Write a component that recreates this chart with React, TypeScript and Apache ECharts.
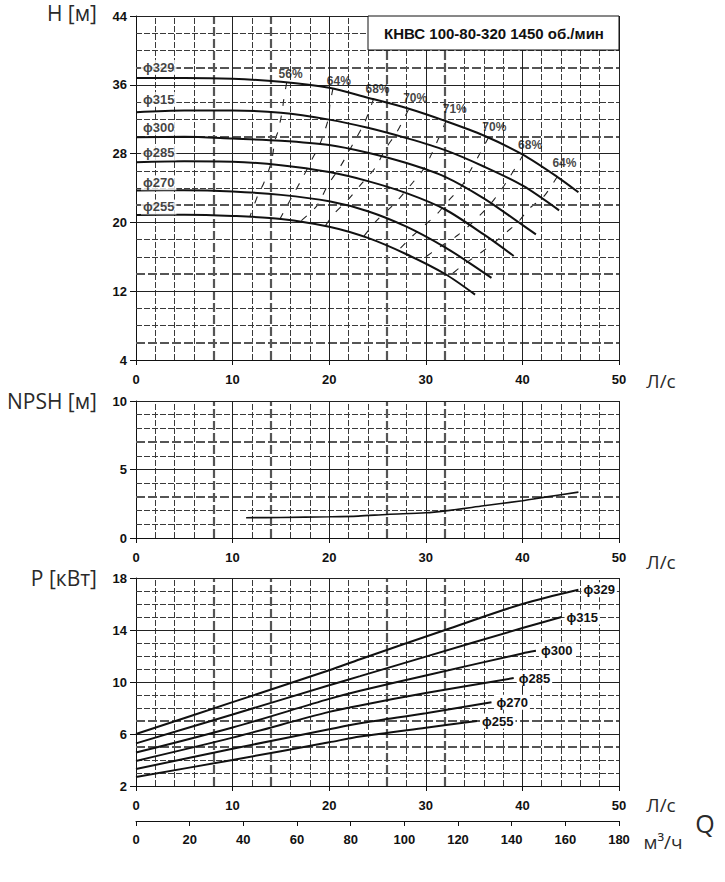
import React, { useEffect, useRef } from "react";
import * as echarts from "echarts";

// ---------- data ----------
const DIAMETERS = ["ϕ329", "ϕ315", "ϕ300", "ϕ285", "ϕ270", "ϕ255"];
const TITLE = "КНВС 100-80-320 1450 об./мин";

// Head curves H(Q), Q in l/s, H in m
const H_329 = [[0, 36.8], [5, 36.8], [10, 36.7], [15, 36.35], [20, 35.65], [24, 34.5], [28, 33.3], [32, 31.8], [36, 30.1], [40, 27.9], [43.6, 25.3], [45.8, 23.5]];
const H_315 = [[0, 32.8], [5, 33.0], [10, 33.0], [15, 32.75], [20, 31.95], [24, 31.0], [28, 29.8], [32, 28.4], [36, 26.5], [40, 24.3], [43.8, 21.4]];
const H_300 = [[0, 29.9], [5, 29.95], [10, 29.75], [15, 29.5], [20, 29.0], [24, 28.1], [28, 26.9], [32, 25.3], [36, 22.8], [39.5, 20.1], [41.4, 18.6]];
const H_285 = [[0, 27.0], [5, 27.1], [10, 27.05], [15, 26.65], [20, 25.85], [24, 24.8], [28, 23.4], [32, 21.5], [36, 18.6], [39.1, 16.1]];
const H_270 = [[0, 23.7], [5, 23.75], [10, 23.6], [15, 23.2], [20, 22.45], [24, 21.3], [28, 19.5], [32, 17.1], [34.5, 15.3], [36.8, 13.55]];
const H_255 = [[0, 20.85], [5, 20.9], [10, 20.75], [15, 20.4], [20, 19.5], [24, 18.2], [28, 16.3], [32, 14.0], [35.1, 11.6]];
const H_CURVES = [H_329, H_315, H_300, H_285, H_270, H_255];

// diameter label anchors on the head chart
const H_LABEL_Q = 2.35;
const H_LABEL_H = [38.0, 34.3, 31.0, 28.1, 24.6, 21.8];

// iso-efficiency lines
const EFF_56 = [[15.6, 36.3], [15.3, 34.3], [15.1, 32.7], [14.7, 30.6], [14.4, 29.6], [14.0, 27.0], [13.2, 24.5], [12.7, 23.4], [11.8, 20.7]];
const EFF_64A = [[20.4, 35.6], [20.1, 33.9], [19.9, 32.0], [19.0, 29.0], [18.2, 27.3], [17.3, 25.3], [16.3, 23.3], [14.9, 20.4]];
const EFF_68A = [[24.6, 34.4], [23.7, 31.7], [22.4, 29.0], [21.1, 26.4], [19.9, 24.4], [18.7, 21.9], [17.0, 20.1]];
const EFF_70A = [[28.2, 33.1], [27.0, 30.5], [25.8, 28.5], [24.8, 26.4], [23.2, 24.3], [22.0, 22.7], [20.5, 21.0], [19.6, 19.6]];
const EFF_71 = [[32.1, 31.8], [31.1, 29.2], [30.4, 27.5], [29.7, 26.1], [28.7, 24.7], [27.8, 23.5], [26.7, 22.1], [24.9, 20.2], [23.6, 18.4]];
const EFF_70B = [[36.5, 29.9], [35.6, 28.0], [34.6, 26.0], [33.7, 24.2], [32.4, 22.6], [31.1, 20.9], [29.8, 19.6], [28.6, 18.4], [27.2, 16.8]];
const EFF_68B = [[40.1, 27.9], [38.7, 25.3], [37.1, 22.7], [35.4, 20.6], [33.3, 18.5], [31.4, 17.1], [29.5, 15.6]];
const EFF_64B = [[43.6, 25.3], [42.2, 23.0], [40.7, 21.6], [39.6, 20.1], [38.4, 18.9], [37.2, 17.75], [35.6, 16.4], [33.8, 15.0], [32.4, 13.7]];
const EFF_LINES = [EFF_56, EFF_64A, EFF_68A, EFF_70A, EFF_71, EFF_70B, EFF_68B, EFF_64B];

const EFF_LABELS = ["56%", "64%", "68%", "70%", "71%", "70%", "68%", "64%"];
const EFF_LABEL_Q = [16.0, 21.0, 25.0, 28.9, 33.0, 37.1, 40.8, 44.35];
const EFF_LABEL_H = [37.2, 36.5, 35.5, 34.5, 33.2, 31.15, 29.0, 26.9];

// NPSH curve
const NPSH = [[11.4, 1.48], [15, 1.5], [20, 1.55], [23, 1.6], [26, 1.72], [30, 1.84], [32, 1.98], [36, 2.35], [40, 2.72], [42, 2.95], [45.8, 3.35]];

// Power curves P(Q), kW
const P_329 = [[0, 6.0], [10, 8.45], [20, 10.9], [23.2, 11.75], [32, 14.0], [40, 16.0], [45.8, 17.1]];
const P_315 = [[0, 5.28], [10, 7.5], [20, 9.75], [23.2, 10.45], [30, 11.95], [40, 14.15], [44.05, 15.0]];
const P_300 = [[0, 4.57], [10, 6.5], [20, 8.7], [23.2, 9.33], [30, 10.5], [40, 12.2], [41.4, 12.4]];
const P_285 = [[0, 3.93], [10, 5.72], [20, 7.7], [23.2, 8.2], [30, 9.15], [39.1, 10.3]];
const P_270 = [[0, 3.3], [10, 4.87], [20, 6.36], [23.2, 6.82], [30, 7.6], [36.8, 8.44]];
const P_255 = [[0, 2.7], [10, 4.0], [20, 5.36], [23.2, 5.8], [30, 6.48], [35.3, 7.0]];
const P_CURVES = [P_329, P_315, P_300, P_285, P_270, P_255];

// axes
const Q_MAX = 50;
const QM3_MAX = 180;
const H_TICKS = [4, 12, 20, 28, 36, 44];
const NPSH_TICKS = [0, 5, 10];
const P_TICKS = [2, 6, 10, 14, 18];

// grid lines
const X_SOLID = [10, 20, 30, 40, 50];
const X_THICK = [8, 14, 26, 32];
const X_THIN = [2, 4, 6, 12, 16, 18, 22, 24, 28, 34, 36, 38, 42, 44, 46, 48];
const H_SOLID = [12, 20, 28, 36, 44];
const H_THICK = [6, 14, 22, 30, 38];
const H_THIN = [8, 10, 16, 18, 24, 26, 32, 34, 40, 42];
const NPSH_SOLID = [5, 10];
const NPSH_THICK = [3, 7];
const NPSH_THIN = [1, 2, 4, 6, 8, 9];
const P_SOLID = [6, 10, 14, 18];
const P_THICK = [5, 7];
const P_THIN = [3, 4, 8, 9, 11, 12, 13, 15, 16, 17];

// ---------- styles ----------
const FONT_NUM = "'Liberation Sans', Arial, sans-serif";
const FONT_TXT = "'Open Sans', 'Noto Sans', sans-serif";
const INK = "#111";

const thinStyle = { color: "#3a3a3a", width: 1, type: [6, 2] };
const thickStyle = { color: "#555", width: 2.2, type: [9, 3] };
const solidStyle = { color: "#222", width: 1, type: "solid" };

function gridLineData(xThin: number[], xThick: number[], xSolid: number[], yThin: number[], yThick: number[], ySolid: number[]) {
  return [
    ...xThin.map((v) => ({ xAxis: v, lineStyle: thinStyle })),
    ...yThin.map((v) => ({ yAxis: v, lineStyle: thinStyle })),
    ...xThick.map((v) => ({ xAxis: v, lineStyle: thickStyle })),
    ...yThick.map((v) => ({ yAxis: v, lineStyle: thickStyle })),
    ...xSolid.map((v) => ({ xAxis: v, lineStyle: solidStyle })),
    ...ySolid.map((v) => ({ yAxis: v, lineStyle: solidStyle })),
  ];
}

function gridSeries(idx: number, data: any[]) {
  return {
    type: "line",
    xAxisIndex: idx,
    yAxisIndex: idx,
    data: [],
    z: 1,
    silent: true,
    markLine: {
      silent: true,
      symbol: ["none", "none"],
      label: { show: false },
      emphasis: { disabled: true },
      animation: false,
      data,
    },
  };
}

const labelText = { color: INK, fontSize: 13, fontWeight: "bold", fontFamily: FONT_NUM };

function xAxis(gridIndex: number, max: number, interval: number, margin: number) {
  return {
    type: "value",
    gridIndex,
    min: 0,
    max,
    interval,
    axisLine: { show: true, onZero: false, lineStyle: { color: INK, width: 1 } },
    axisTick: { show: true, length: 5, lineStyle: { color: INK, width: 1 } },
    axisLabel: { margin, ...labelText },
    splitLine: { show: false },
  };
}

function yAxis(gridIndex: number, min: number, max: number, interval: number, ticks: number[]) {
  return {
    type: "value",
    gridIndex,
    min,
    max,
    interval,
    axisLine: { show: true, onZero: false, lineStyle: { color: INK, width: 1 } },
    axisTick: { show: true, length: 6, customValues: ticks, lineStyle: { color: INK, width: 1 } },
    axisLabel: { margin: 9, customValues: ticks, ...labelText },
    splitLine: { show: false },
  };
}

function buildOption() {
  const series: any[] = [];
  series.push(gridSeries(0, gridLineData(X_THIN, X_THICK, X_SOLID, H_THIN, H_THICK, H_SOLID)));
  series.push(gridSeries(1, gridLineData(X_THIN, X_THICK, X_SOLID, NPSH_THIN, NPSH_THICK, NPSH_SOLID)));
  series.push(gridSeries(2, gridLineData(X_THIN, X_THICK, X_SOLID, P_THIN, P_THICK, P_SOLID)));

  EFF_LINES.forEach((pts, i) => {
    series.push({
      type: "line",
      name: "eff" + i,
      xAxisIndex: 0,
      yAxisIndex: 0,
      data: pts,
      smooth: 0.3,
      symbol: "none",
      silent: true,
      z: 4,
      lineStyle: { color: "#222", width: 1.1, type: [7, 10] },
    });
  });

  H_CURVES.forEach((pts, i) => {
    series.push({
      type: "line",
      name: "H " + DIAMETERS[i],
      xAxisIndex: 0,
      yAxisIndex: 0,
      data: pts,
      smooth: 0.3,
      symbol: "none",
      silent: true,
      z: 5,
      lineStyle: { color: INK, width: 2 },
    });
  });

  series.push({
    type: "scatter",
    xAxisIndex: 0,
    yAxisIndex: 0,
    symbolSize: 1,
    silent: true,
    z: 10,
    itemStyle: { color: "rgba(0,0,0,0)" },
    data: DIAMETERS.map((d, i) => ({ value: [H_LABEL_Q, H_LABEL_H[i]], name: d })),
    label: {
      show: true,
      position: "inside",
      formatter: (p: any) => p.name,
      backgroundColor: "#fff",
      padding: [1, 2],
      color: INK,
      fontSize: 13,
      fontWeight: "bold",
      fontFamily: FONT_NUM,
    },
  });

  series.push({
    type: "scatter",
    xAxisIndex: 0,
    yAxisIndex: 0,
    symbolSize: 1,
    silent: true,
    z: 10,
    itemStyle: { color: "rgba(0,0,0,0)" },
    data: EFF_LABELS.map((d, i) => ({ value: [EFF_LABEL_Q[i], EFF_LABEL_H[i]], name: d })),
    label: {
      show: true,
      position: "inside",
      formatter: (p: any) => p.name,
      color: INK,
      fontSize: 12,
      fontWeight: "bold",
      fontFamily: FONT_NUM,
    },
  });

  series.push({
    type: "line",
    name: "NPSH",
    xAxisIndex: 1,
    yAxisIndex: 1,
    data: NPSH,
    smooth: 0.3,
    symbol: "none",
    silent: true,
    z: 5,
    lineStyle: { color: INK, width: 1.6 },
  });

  P_CURVES.forEach((pts, i) => {
    series.push({
      type: "line",
      name: "P " + DIAMETERS[i],
      xAxisIndex: 2,
      yAxisIndex: 2,
      data: pts,
      smooth: 0.3,
      symbol: "none",
      silent: true,
      z: 5,
      lineStyle: { color: INK, width: 2 },
      endLabel: {
        show: true,
        formatter: DIAMETERS[i],
        distance: 3,
        backgroundColor: "#fff",
        padding: [1, 2],
        color: INK,
        fontSize: 13,
        fontWeight: "bold",
        fontFamily: FONT_NUM,
      },
    });
  });

  const axisTitle = (text: string, x: number, y: number, align: string, size = 21) => ({
    type: "text",
    x,
    y,
    z: 100,
    silent: true,
    style: {
      text,
      fill: "#2a2a2a",
      font: `${size}px ${FONT_TXT}`,
      align,
      verticalAlign: "middle",
    },
  });

  return {
    animation: false,
    backgroundColor: "#fff",
    grid: [
      { left: 136, top: 16, width: 483, height: 344 },
      { left: 136, top: 401, width: 483, height: 137 },
      { left: 136, top: 578, width: 483, height: 208 },
      { left: 136, top: 820, width: 483, height: 1 },
    ],
    xAxis: [
      xAxis(0, Q_MAX, 10, 13),
      xAxis(1, Q_MAX, 10, 13),
      xAxis(2, Q_MAX, 10, 13),
      xAxis(3, QM3_MAX, 20, 12),
    ],
    yAxis: [
      yAxis(0, 4, 44, 4, H_TICKS),
      yAxis(1, 0, 10, 5, NPSH_TICKS),
      yAxis(2, 2, 18, 2, P_TICKS),
      { type: "value", gridIndex: 3, min: 0, max: 1, show: false },
    ],
    series,
    graphic: [
      {
        type: "rect",
        z: 100,
        silent: true,
        shape: { x: 368, y: 16, width: 251, height: 34 },
        style: { fill: "#fff", stroke: INK, lineWidth: 1 },
      },
      {
        type: "text",
        x: 494,
        y: 33,
        z: 101,
        silent: true,
        style: {
          text: TITLE,
          fill: INK,
          font: `bold 15px ${FONT_NUM}`,
          align: "center",
          verticalAlign: "middle",
        },
      },
      axisTitle("H [м]", 97, 13, "right"),
      axisTitle("NPSH [м]", 97, 401, "right"),
      axisTitle("P [кВт]", 97, 578, "right"),
      axisTitle("Л/с", 661, 381, "center", 19),
      axisTitle("Л/с", 661, 562, "center", 19),
      axisTitle("Л/с", 661, 805, "center", 19),
      axisTitle("Q", 705, 823, "center", 25),
      axisTitle("м³/ч", 663, 842, "center", 19),
    ],
  };
}

export default function App() {
  const ref = useRef<HTMLDivElement>(null);
  useEffect(() => {
    if (!ref.current) return;
    const chart = echarts.init(ref.current, null, { renderer: "svg" });
    chart.setOption(buildOption() as any);
    return () => chart.dispose();
  }, []);
  return (
    <div
      ref={ref}
      style={{ position: "absolute", left: 0, top: 0, width: 725, height: 882, background: "#fff" }}
    />
  );
}
